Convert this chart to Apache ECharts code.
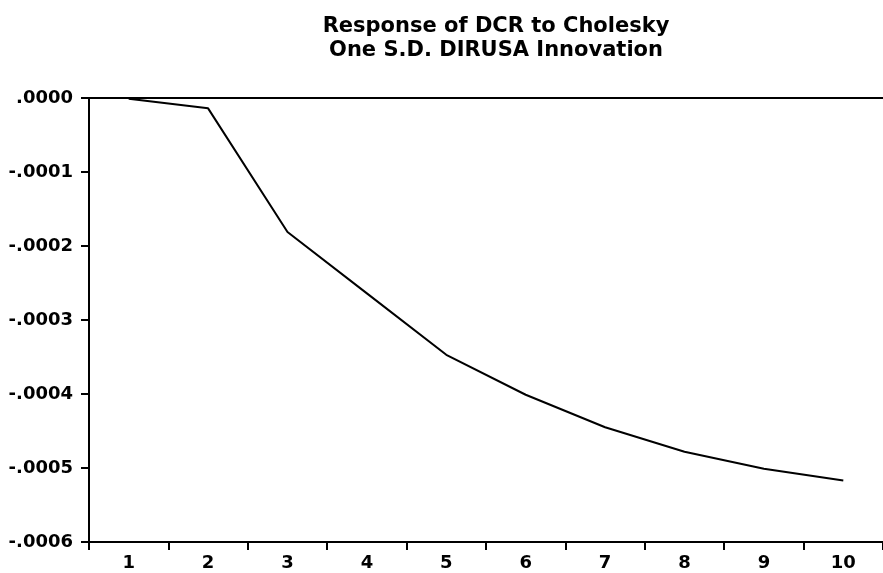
<!DOCTYPE html>
<html>
<head>
<meta charset="utf-8">
<script src="https://cdn.jsdelivr.net/npm/echarts@6/dist/echarts.min.js"></script>
<style>
  html, body { margin: 0; padding: 0; background: #fff; }
  #chart { width: 883px; height: 573px; }
</style>
</head>
<body>
<div id="chart"></div>
<script>
// periods and response of DCR
const periods = ["1", "2", "3", "4", "5", "6", "7", "8", "9", "10"];
const response = [-0.000001, -0.000014, -0.000181, -0.000264, -0.000347,
  -0.000401, -0.000445, -0.000478, -0.000501, -0.000517];
const titleLines = ["Response of DCR to Cholesky", "One S.D. DIRUSA Innovation"];

function fmt(v) {
  // EViews-style label: .0000, -.0001 ...
  let s = Math.abs(v).toFixed(4).replace(/^0/, "");
  return (v < -1e-9 ? "-" : "") + s;
}

let myChart = echarts.init(document.getElementById("chart"));
myChart.setOption({
  animation: false,
  backgroundColor: "#fff",
  title: {
    text: titleLines.join("\n"),
    left: 491,
    textAlign: "center",
    top: 10,
    textStyle: {
      fontFamily: "DejaVu Sans",
      fontSize: 21,
      fontWeight: "bold",
      color: "#000",
      lineHeight: 24
    }
  },
  grid: { left: 89, right: -8, top: 98, bottom: 31 },
  xAxis: {
    type: "category",
    data: periods,
    boundaryGap: true,
    axisLine: { onZero: false, lineStyle: { color: "#000", width: 2 } },
    axisTick: { show: true, length: 8, lineStyle: { color: "#000", width: 2 } },
    axisLabel: {
      color: "#000",
      fontFamily: "DejaVu Sans",
      fontWeight: "bold",
      fontSize: 18,
      margin: 12
    }
  },
  yAxis: {
    type: "value",
    min: -0.0006,
    max: 0,
    interval: 0.0001,
    axisLine: { show: true, lineStyle: { color: "#000", width: 2 } },
    axisTick: { show: true, length: 8, lineStyle: { color: "#000", width: 2 } },
    splitLine: { show: false },
    axisLabel: {
      color: "#000",
      fontFamily: "DejaVu Sans",
      fontWeight: "bold",
      fontSize: 18,
      margin: 16,
      formatter: fmt
    }
  },
  series: [
    {
      type: "line",
      data: response,
      symbol: "none",
      lineStyle: { color: "#000", width: 2 },
      markLine: {
        silent: true,
        symbol: "none",
        label: { show: false },
        lineStyle: { color: "#000", width: 2, type: "solid" },
        data: [{ yAxis: 0 }]
      }
    }
  ]
});
window.onresize = function () {
  myChart.resize();
};
</script>
</body>
</html>
